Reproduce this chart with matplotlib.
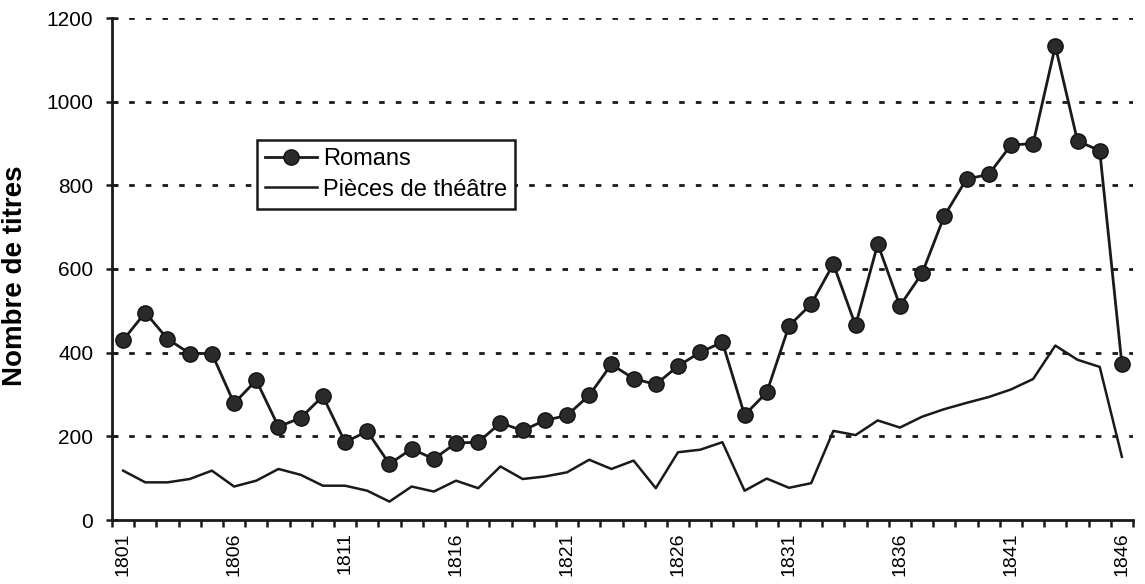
import matplotlib
matplotlib.use('Agg')
import matplotlib.pyplot as plt
import numpy as np

plt.rcParams['font.family'] = ['Liberation Sans', 'DejaVu Sans']

years = list(range(1801, 1847))
romans = [430, 496, 433, 398, 398, 279, 334, 223, 244, 296,
          186, 212, 134, 170, 146, 184, 186, 232, 214, 238,
          250, 298, 372, 338, 324, 368, 401, 425, 251, 305,
          464, 516, 612, 465, 660, 512, 590, 727, 815, 826,
          896, 900, 1133, 906, 883, 372]
theatre = [118, 90, 90, 98, 118, 80, 94, 122, 108, 82,
           82, 70, 44, 80, 68, 94, 76, 128, 98, 104,
           114, 144, 122, 142, 76, 162, 168, 186, 70, 99,
           77, 88, 213, 203, 238, 221, 247, 265, 280, 294,
           312, 337, 417, 383, 366, 151]
label_years = [1801, 1806, 1811, 1816, 1821, 1826, 1831, 1836, 1841, 1846]
yticks = [0, 200, 400, 600, 800, 1000, 1200]

fig = plt.figure(figsize=(11.45, 5.84), dpi=100)
ax = fig.add_axes([112/1145, 64/584, 1021/1145, 502/584])

# horizontal dotted gridlines (Excel style)
for v in yticks[1:]:
    ax.axhline(v, color='#1a1a1a', lw=2.0, ls=(0, (2.0, 4.0)), zorder=1)

ax.plot(years, romans, color='#1a1a1a', lw=2.0, marker='o', ms=11,
        mfc='#2a2a2a', mec='#111111', mew=1.0, label='Romans', zorder=3)
ax.plot(years, theatre, color='#1a1a1a', lw=1.8, label='Pièces de théâtre', zorder=3)

ax.set_xlim(1800.5, 1846.5)
ax.set_ylim(0, 1200)

ax.set_xticks(label_years)
ax.set_xticklabels([str(y) for y in label_years], rotation=90, fontsize=14)
ax.set_xticks(np.arange(1800.5, 1847, 1), minor=True)
ax.tick_params(axis='x', which='major', length=0, pad=9)
ax.tick_params(axis='x', which='minor', length=5, width=1.8, direction='out', color='#1a1a1a')

ax.set_yticks(yticks)
ax.set_yticklabels([str(v) for v in yticks], fontsize=15)
ax.tick_params(axis='y', which='major', length=9, width=1.8, direction='inout', pad=9, color='#1a1a1a')

for s in ['top', 'right']:
    ax.spines[s].set_visible(False)
for s in ['left', 'bottom']:
    ax.spines[s].set_linewidth(2.0)
    ax.spines[s].set_color('#1a1a1a')

ax.set_ylabel('Nombre de titres', fontsize=20, fontweight='bold')
ax.yaxis.set_label_coords(-0.082, 0.486)

leg = ax.legend(loc='upper left', bbox_to_anchor=(0.142, 0.757), borderaxespad=0,
                fontsize=17, frameon=True, fancybox=False, handlelength=2.2,
                handletextpad=0.25, labelspacing=0.35, borderpad=0.35)
leg.get_frame().set_edgecolor('#1a1a1a')
leg.get_frame().set_linewidth(1.8)
leg.get_frame().set_alpha(1)

fig.savefig('out.png', dpi=100)
